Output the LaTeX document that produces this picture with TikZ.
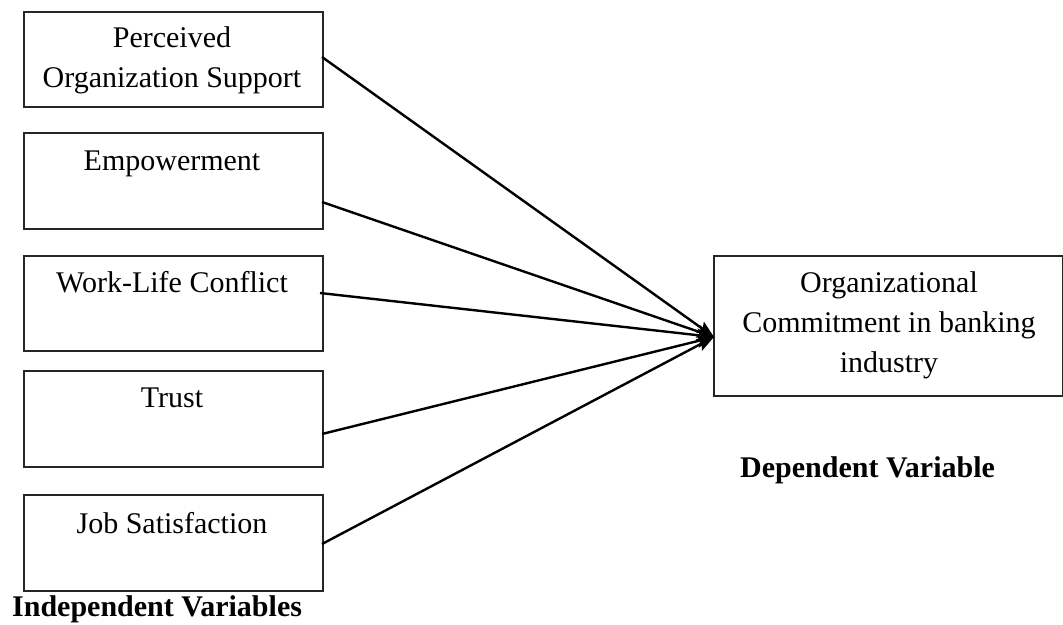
\documentclass[tikz,border=0pt]{standalone}
\usepackage{fontspec}
\setmainfont{Liberation Serif}
\usetikzlibrary{arrows.meta}
\begin{document}
\begin{tikzpicture}[x=1pt,y=-1pt,
  boxnode/.style={draw=black!85,line width=1.6pt,rectangle,inner sep=0pt,anchor=north west},
  lbl/.style={anchor=base,inner sep=0pt,font=\fontsize{30}{40}\selectfont},
  hdr/.style={anchor=base west,inner sep=0pt,font=\fontsize{30}{40}\selectfont\bfseries},
  conn/.style={line width=2.4pt,-{Stealth[length=17pt,width=13pt,inset=3pt]}}]
\useasboundingbox (0,0) rectangle (1063,624);
% independent variable boxes
\node[boxnode,minimum width=299pt,minimum height=95pt] (b1) at (23,11) {};
\node[boxnode,minimum width=299pt,minimum height=96pt] (b2) at (23,132) {};
\node[boxnode,minimum width=299pt,minimum height=95pt] (b3) at (23,255) {};
\node[boxnode,minimum width=299pt,minimum height=96pt] (b4) at (23,370) {};
\node[boxnode,minimum width=299pt,minimum height=96pt] (b5) at (23,494) {};
\node[boxnode,minimum width=349pt,minimum height=140pt] (dv) at (713,255) {};
% texts
\node[lbl] (t1a) at (172,47) {Perceived};
\node[lbl] (t1b) at (172,87) {Organization Support};
\node[lbl] (t2) at (172,170) {Empowerment};
\node[lbl] (t3) at (172,292) {Work-Life Conflict};
\node[lbl] (t4) at (172,407) {Trust};
\node[lbl] (t5) at (172,533) {Job Satisfaction};
\node[lbl] (d1) at (889,292) {Organizational};
\node[lbl] (d2) at (889,332) {Commitment in banking};
\node[lbl] (d3) at (889,372) {industry};
\node[hdr] (hd) at (740,477) {Dependent Variable};
\node[hdr] (hi) at (12,616) {Independent Variables};
% connectors
\coordinate (s1) at (322,57);
\coordinate (s2) at (322,202);
\coordinate (s3) at (320,293);
\coordinate (s4) at (322,434);
\coordinate (s5) at (322,544);
\coordinate (tip) at (714,337);
\draw[conn] (s1) -- (tip);
\draw[conn] (s2) -- (tip);
\draw[conn] (s3) -- (tip);
\draw[conn] (s4) -- (tip);
\draw[conn] (s5) -- (tip);
\end{tikzpicture}
\end{document}
